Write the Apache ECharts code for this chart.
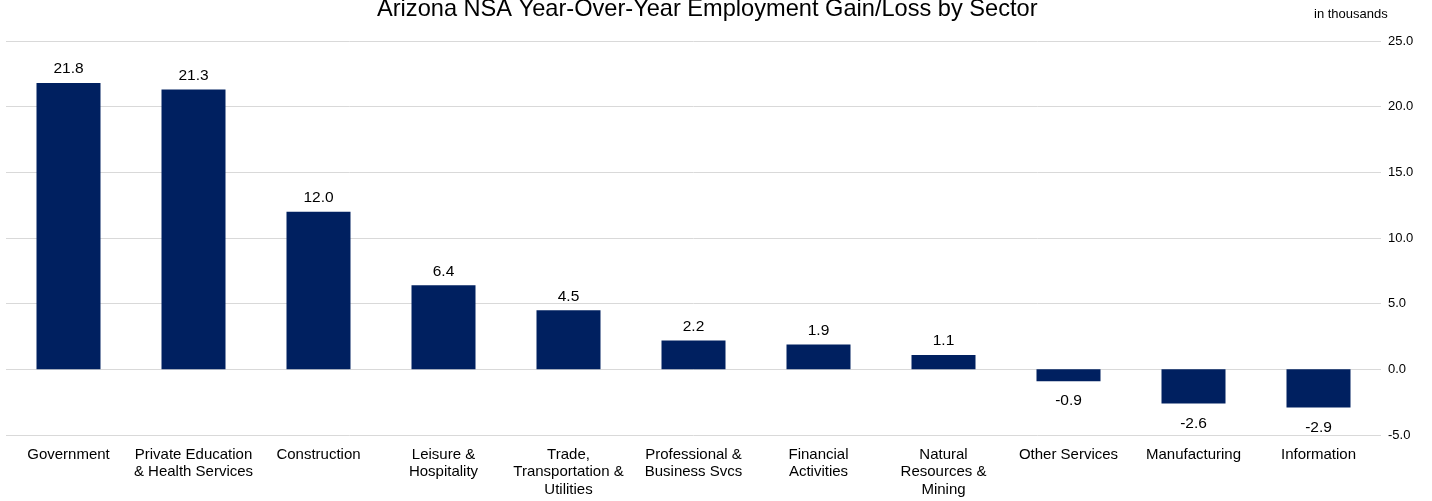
<!DOCTYPE html>
<html><head><meta charset="utf-8">
<script src="https://cdn.jsdelivr.net/npm/echarts@6/dist/echarts.min.js"></script>
<style>html,body{margin:0;padding:0;background:#fff}#c{width:1432px;height:501px}</style>
</head><body><div id="c"></div>
<script>
const categories = ["Government","Private Education\n& Health Services","Construction","Leisure &\nHospitality","Trade,\nTransportation &\nUtilities","Professional &\nBusiness Svcs","Financial\nActivities","Natural\nResources &\nMining","Other Services","Manufacturing","Information"];
const values = [21.8, 21.3, 12.0, 6.4, 4.5, 2.2, 1.9, 1.1, -0.9, -2.6, -2.9];
const titleText = "Arizona NSA Year-Over-Year Employment Gain/Loss by Sector";
const unitText = "in thousands";
const font = "Liberation Sans, Arial, sans-serif";
const chart = echarts.init(document.getElementById('c'), null, {renderer:'canvas'});
chart.setOption({
  animation:false,
  textStyle:{fontFamily:font},
  title:[{text:titleText,left:372,top:-8,textStyle:{fontFamily:font,fontSize:23.6,fontWeight:'normal',color:'#000'}},
         {text:unitText,left:1309,top:3,textStyle:{fontFamily:font,fontSize:13,fontWeight:'normal',color:'#000'}}],
  grid:{left:6,right:51,top:41,bottom:66},
  xAxis:{type:'category',data:categories,axisLine:{show:false},axisTick:{show:false},
    axisLabel:{interval:0,color:'#000',fontSize:15,fontFamily:font,margin:11,lineHeight:17.5,verticalAlign:'top'}},
  yAxis:{type:'value',position:'right',min:-5,max:25,interval:5,
    axisLine:{show:false},axisTick:{show:false},
    splitLine:{lineStyle:{color:'#d9d9d9',width:1}},
    axisLabel:{color:'#000',fontSize:13,fontFamily:font,margin:7,formatter:v=>v.toFixed(1)}},
  series:[{type:'bar',barWidth:64,itemStyle:{color:'#002060'},
    data:values.map(v=>({value:v,label:{position:v<0?'bottom':'top',distance:v<0?12:6}})),
    label:{show:true,fontSize:15.5,fontFamily:font,color:'#000',
      formatter:p=>p.value.toFixed(1)}}]
});
</script></body></html>
